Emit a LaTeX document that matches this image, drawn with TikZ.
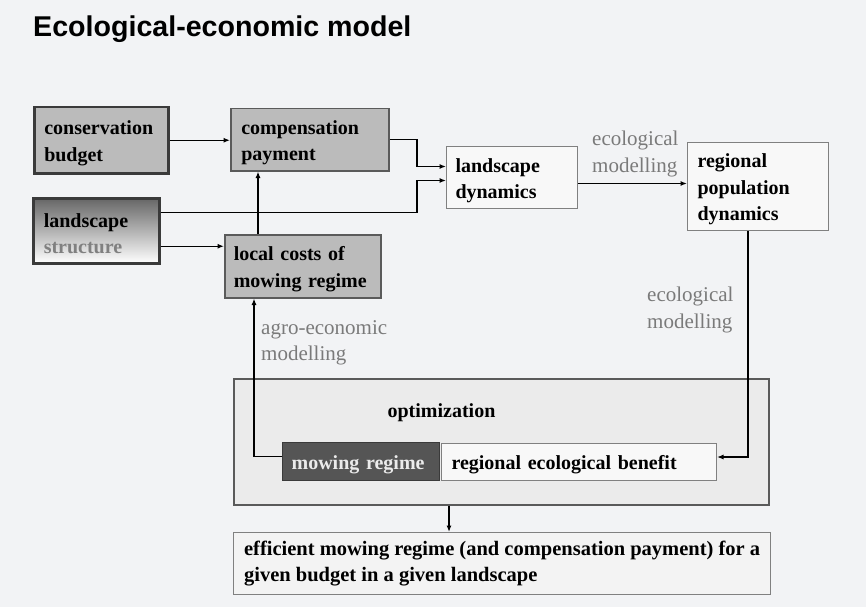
\documentclass[tikz,border=0pt]{standalone}
\usepackage{fontspec}
\setmainfont{Liberation Serif}
\newfontfamily\titlefont{Liberation Sans}
\usetikzlibrary{arrows.meta,calc}
\definecolor{bg}{HTML}{F2F3F5}
\definecolor{boxgray}{HTML}{BBBBBB}
\definecolor{darkedge}{HTML}{3A3A3A}
\definecolor{midedge}{HTML}{5A5A5A}
\definecolor{lightedge}{HTML}{808080}
\definecolor{optfill}{HTML}{EBEBEB}
\definecolor{mowfill}{HTML}{555555}
\definecolor{lbl}{HTML}{7A7A7A}
\definecolor{whitebox}{HTML}{F8F8F8}
\begin{document}
\begin{tikzpicture}[x=1pt,y=-1pt,
  boxtext/.style={font=\bfseries\fontsize{20}{26.5}\selectfont, align=left, anchor=north west, inner ysep=0pt, execute at begin node={\rule{0pt}{20pt}}},
  graybox/.style={boxtext, draw=midedge, line width=1.5pt, fill=boxgray},
  darkbox/.style={boxtext, draw=darkedge, line width=2.5pt, fill=boxgray},
  whitebx/.style={boxtext, draw=lightedge, line width=1pt, fill=whitebox},
  lbltext/.style={font=\fontsize{21}{26.5}\selectfont, text=lbl, align=left, anchor=north west, inner sep=0pt},
  arr/.style={draw=black, line width=1.2pt, -{Latex[length=6.5pt,width=5pt]}}
]
\useasboundingbox (0,0) rectangle (866,607);
\fill[bg] (0,0) rectangle (866,607);

\node[font=\titlefont\bfseries\fontsize{28.6}{32}\selectfont, anchor=base west, inner sep=0pt] (title) at (33,37) {Ecological-economic model};

% boxes
\node[darkbox, minimum width=134pt, minimum height=66pt, text width=114pt, inner xsep=10pt] (cb) at (33,106) {conservation\\budget};
\node[graybox, minimum width=158pt, minimum height=62pt, text width=137pt, inner xsep=10.5pt] (cp) at (230,108) {compensation\\payment};
\node[boxtext, draw=darkedge, line width=2.5pt, top color=black!60, bottom color=white, minimum width=126pt, minimum height=65pt, text width=105pt, inner xsep=10.5pt] (ls) at (32,197) {landscape\\\textcolor{black!50}{structure}};
\node[graybox, minimum width=156pt, minimum height=63pt, text width=138pt, inner xsep=9pt] (lc) at (224,234) {local costs of\\mowing regime};
\node[whitebx, minimum width=131pt, minimum height=62pt, text width=113pt, inner xsep=9pt] (ld) at (446,146) {landscape\\dynamics};
\node[whitebx, minimum width=141pt, minimum height=88pt, text width=121pt, inner xsep=10pt] (rp) at (687,142) {regional\\population\\dynamics};

\node[draw=midedge, line width=1.5pt, fill=optfill, minimum width=535pt, minimum height=126pt, anchor=north west, inner sep=0pt] (opt) at (233,378) {};
\node[font=\bfseries\fontsize{20}{26.5}\selectfont, anchor=base, inner sep=0pt] (optl) at (441.5,417) {optimization};
\node[boxtext, draw=darkedge, line width=1.2pt, fill=mowfill, text=black!8, minimum width=157pt, minimum height=38pt, text width=139pt, inner xsep=9pt] (mr) at (282,442) {mowing regime};
\node[whitebx, minimum width=275pt, minimum height=37pt, text width=255pt, inner xsep=10pt] (reb) at (441,443) {regional ecological benefit};
\node[boxtext, font=\bfseries\fontsize{20.5}{26}\selectfont, draw=lightedge, line width=1.2pt, fill=optfill!60!white, minimum width=537pt, minimum height=62pt, inner xsep=4pt] (eff) at (233,532) {efficient mowing regime (and compensation payment) for a\\given budget in a given landscape};

% labels
\node[lbltext] (el1) at (592,131) {ecological\\modelling};
\node[lbltext] (el2) at (647,287) {ecological\\modelling};
\node[lbltext] (ae) at (261,320) {agro-economic\\modelling};

% helper coordinates
\coordinate (x417) at (417,0);
\coordinate (x258) at (258,0);
\coordinate (x254) at (254,0);
\coordinate (x748) at (748,0);
\coordinate (x449) at (449,0);

% connectors
\draw[arr] (cb.east) -- (cb.east -| cp.west);
\draw[arr] (cp.east) -- (cp.east -| x417) |- ([yshift=11pt]ld.west);
\coordinate (ls1) at ([yshift=18.5pt]ls.east);
\draw[arr] (ls1) -- (ls1 -| x417) |- ([yshift=-3pt]ld.west);
\coordinate (ls2) at ([yshift=-15.5pt]ls.east);
\draw[arr] (ls2) -- (ls2 -| lc.west);
\draw[arr] (lc.north -| x258) -- (cp.south -| x258);
\coordinate (mrw) at ([yshift=5pt]mr.west);
\draw[arr] (mrw) -| (x254 |- lc.south);
\coordinate (ldr) at ([yshift=-6pt]ld.east);
\draw[arr] (ldr) -- (ldr -| rp.west);
\draw[arr] (rp.south -| x748) |- ([yshift=5pt]reb.east);
\draw[arr] (opt.south -| x449) -- (eff.north -| x449);
\end{tikzpicture}
\end{document}
